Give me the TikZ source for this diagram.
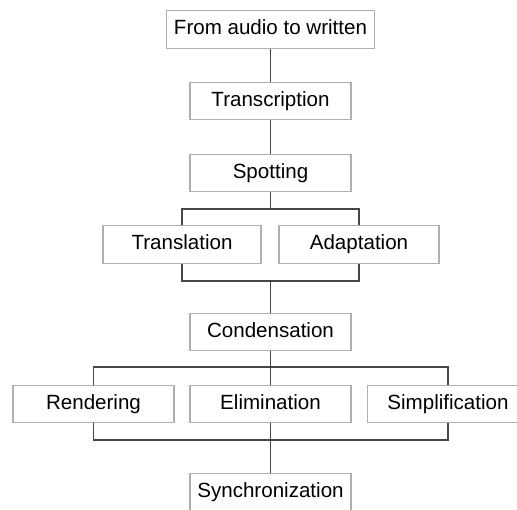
\documentclass[tikz,border=0pt]{standalone}
\usepackage{fontspec}
\setmainfont{Liberation Sans}
\usepackage{xcolor}
\usetikzlibrary{positioning}
\definecolor{stepgray}{RGB}{175,175,175}
\definecolor{linkgray}{RGB}{70,70,70}
\tikzset{
  stepbox/.style={
    rectangle,
    draw=stepgray,
    line width=0.8pt,
    fill=white,
    align=center,
    minimum width=3.22cm,
    minimum height=0.75cm,
    inner sep=2pt,
    text height=1.6ex,
    text depth=0.45ex,
    font=\fontsize{11.7}{14}\selectfont
  },
  linkline/.style={
    line width=1.1pt,
    draw=linkgray
  }
}
\begin{document}
\begin{tikzpicture}
\useasboundingbox (0,0) rectangle (10.34,10.18);

\node[stepbox, minimum width=4.16cm] (written) at (5.41,9.59) {From audio to written};
\node[stepbox] (transcription) at (5.41,8.16) {Transcription};
\node[stepbox] (spotting) at (5.41,6.72) {Spotting};

\node[stepbox, minimum width=3.16cm] (translation) at (3.64,5.29) {Translation};
\node[stepbox, minimum width=3.20cm] (adaptation) at (7.18,5.29) {Adaptation};

\node[stepbox] (condensation) at (5.41,3.54) {Condensation};

\node[stepbox] (rendering) at (1.87,2.10) {Rendering};
\node[stepbox] (elimination) at (5.41,2.10) {Elimination};
\node[stepbox] (simplification) at (8.96,2.10) {Simplification};

\node[stepbox] (sync) at (5.41,0.33) {Synchronization};

\coordinate (split) at (5.41,6.00);
\coordinate (splittrans) at (3.64,6.00);
\coordinate (splitadapt) at (7.18,6.00);
\coordinate (join) at (5.41,4.56);
\coordinate (jointrans) at (3.64,4.56);
\coordinate (joinadapt) at (7.18,4.56);

\coordinate (fork) at (5.41,2.84);
\coordinate (forkrend) at (1.87,2.84);
\coordinate (forksimp) at (8.96,2.84);
\coordinate (merge) at (5.41,1.38);
\coordinate (mergerend) at (1.87,1.38);
\coordinate (mergesimp) at (8.96,1.38);

\draw[linkline] (written.south) -- (transcription.north);
\draw[linkline] (transcription.south) -- (spotting.north);

\draw[linkline] (spotting.south) -- (split);
\draw[linkline] (translation.north) -- (splittrans) -- (splitadapt) -- (adaptation.north);
\draw[linkline] (translation.south) -- (jointrans) -- (joinadapt) -- (adaptation.south);
\draw[linkline] (join) -- (condensation.north);

\draw[linkline] (condensation.south) -- (elimination.north);
\draw[linkline] (rendering.north) -- (forkrend) -- (forksimp) -- (simplification.north);
\draw[linkline] (rendering.south) -- (mergerend) -- (mergesimp) -- (simplification.south);
\draw[linkline] (elimination.south) -- (sync.north);
\end{tikzpicture}
\end{document}
